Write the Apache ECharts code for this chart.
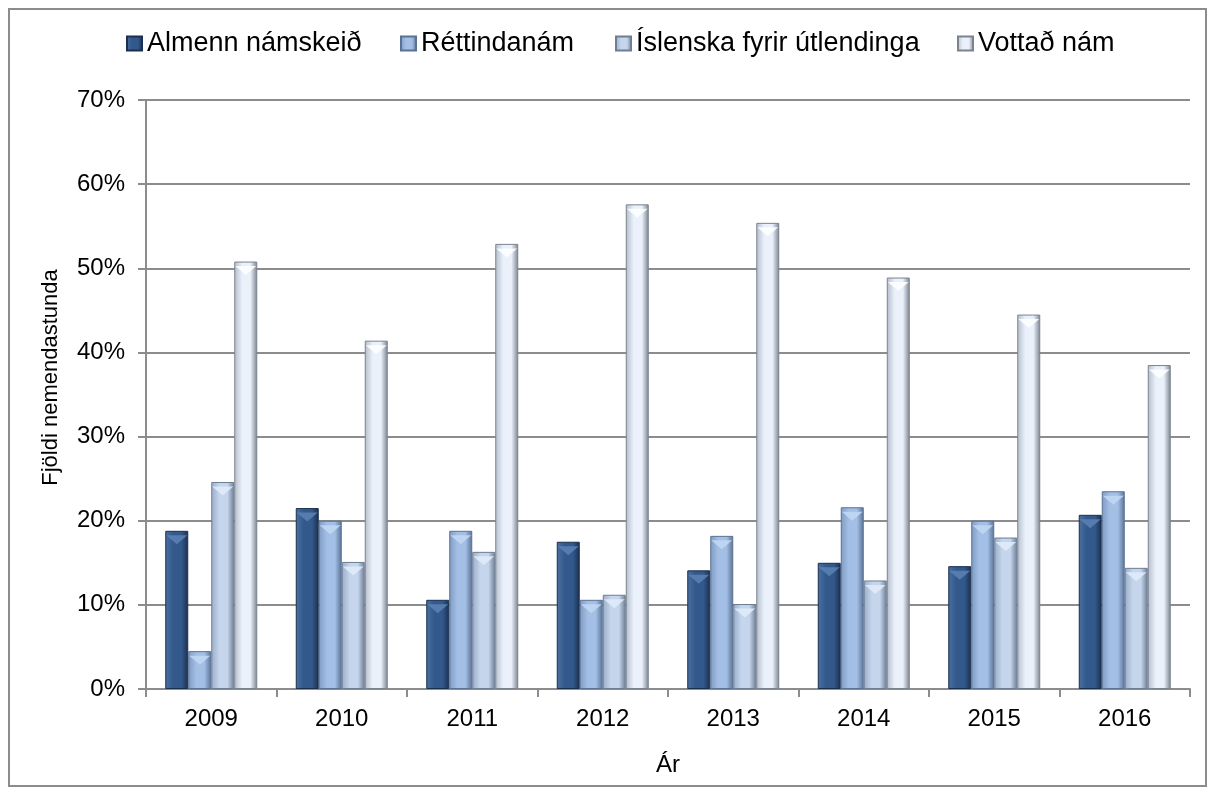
<!DOCTYPE html>
<html>
<head>
<meta charset="utf-8">
<script src="https://cdn.jsdelivr.net/npm/echarts@6/dist/echarts.min.js"></script>
<style>
  html, body { margin: 0; padding: 0; background: #fff; }
  #chart { width: 1215px; height: 794px; }
</style>
</head>
<body>
<div id="chart"></div>
<script>
const years = ['2009', '2010', '2011', '2012', '2013', '2014', '2015', '2016']
const seriesNames = ['Almenn námskeið', 'Réttindanám', 'Íslenska fyrir útlendinga', 'Vottað nám']

// share of student hours, %
const almenn = [18.8, 21.5, 10.6, 17.5, 14.1, 15.0, 14.6, 20.7]
const rettindanam = [4.5, 20.0, 18.8, 10.6, 18.2, 21.6, 20.0, 23.5]
const islenska = [24.6, 15.1, 16.3, 11.2, 10.1, 12.9, 18.0, 14.4]
const vottad = [50.8, 41.4, 52.9, 57.6, 55.4, 48.9, 44.5, 38.5]

const allValues = [almenn, rettindanam, islenska, vottad]

// legend x positions (one legend per item, like the Excel layout)
const legendLeft = [126, 400, 615, 957]

// bevel-ish horizontal gradients: edge, face, dark edge, chevron
const shades = [
  ['#4b70a2', '#33598c', '#1b2f4e', '#5d82b5'],
  ['#7f9bc3', '#a3bfe5', '#5a7195', '#c3d8f5'],
  ['#9aaec8', '#c4d5ec', '#6c7d94', '#e2ecfa'],
  ['#b3bdca', '#eaf1fb', '#7a838e', '#ffffff']
]

const fill = (s) => new echarts.graphic.LinearGradient(0, 0, 1, 0, [
  { offset: 0, color: s[0] },
  { offset: 0.35, color: s[1] },
  { offset: 0.7, color: s[1] },
  { offset: 1, color: s[2] }
])

const font = 'Arial, "Liberation Sans", sans-serif'

const chart = echarts.init(document.getElementById('chart'))

const bars = seriesNames.map((name, i) => ({
  name: name,
  type: 'bar',
  data: allValues[i],
  barWidth: 23,
  barGap: '0%',
  itemStyle: {
    color: fill(shades[i]),
    borderColor: shades[i][2],
    borderWidth: 1
  }
}))

// light chevron at the top of each bar
const tops = seriesNames.map((name, i) => ({
  name: name + ' top',
  type: 'pictorialBar',
  data: allValues[i],
  barWidth: 21,
  barGap: '9.5%',
  symbol: 'triangle',
  symbolRotate: 180,
  symbolSize: [21, 9],
  symbolPosition: 'end',
  symbolOffset: [0, '50%'],
  itemStyle: { color: shades[i][3], opacity: 0.85 },
  silent: true,
  z: 3
}))

chart.setOption({
  animation: false,
  textStyle: { fontFamily: font, color: '#000' },
  graphic: [{
    type: 'rect',
    shape: { x: 9, y: 9, width: 1197, height: 777 },
    style: { fill: 'none', stroke: '#8c8c8c', lineWidth: 2 }
  }],
  legend: seriesNames.map((name, i) => ({
    data: [name],
    top: 30,
    left: legendLeft[i],
    padding: 0,
    itemWidth: 15,
    itemHeight: 14,
    icon: 'rect',
    textStyle: { fontSize: 27, color: '#000', fontFamily: font }
  })),
  grid: { left: 146, right: 25, top: 100, bottom: 105 },
  xAxis: {
    type: 'category',
    data: years,
    name: 'Ár',
    nameLocation: 'middle',
    nameGap: 64,
    nameTextStyle: { fontSize: 24, color: '#000' },
    axisLine: { lineStyle: { color: '#8c8c8c', width: 2 } },
    axisTick: { show: true, length: 8, lineStyle: { color: '#8c8c8c', width: 2 } },
    axisLabel: { fontSize: 24, color: '#000', margin: 18 }
  },
  yAxis: {
    type: 'value',
    min: 0,
    max: 70,
    interval: 10,
    name: 'Fjöldi nemendastunda',
    nameLocation: 'middle',
    nameGap: 84,
    nameTextStyle: { fontSize: 22, color: '#000', padding: [0, 0, 0, 34] },
    axisLine: { show: true, lineStyle: { color: '#8c8c8c', width: 2 } },
    axisTick: { show: true, length: 8, lineStyle: { color: '#8c8c8c', width: 2 } },
    axisLabel: { fontSize: 24, color: '#000', margin: 21, formatter: '{value}%' },
    splitLine: { lineStyle: { color: '#8c8c8c', width: 2 } }
  },
  series: bars.concat(tops)
})
</script>
</body>
</html>
